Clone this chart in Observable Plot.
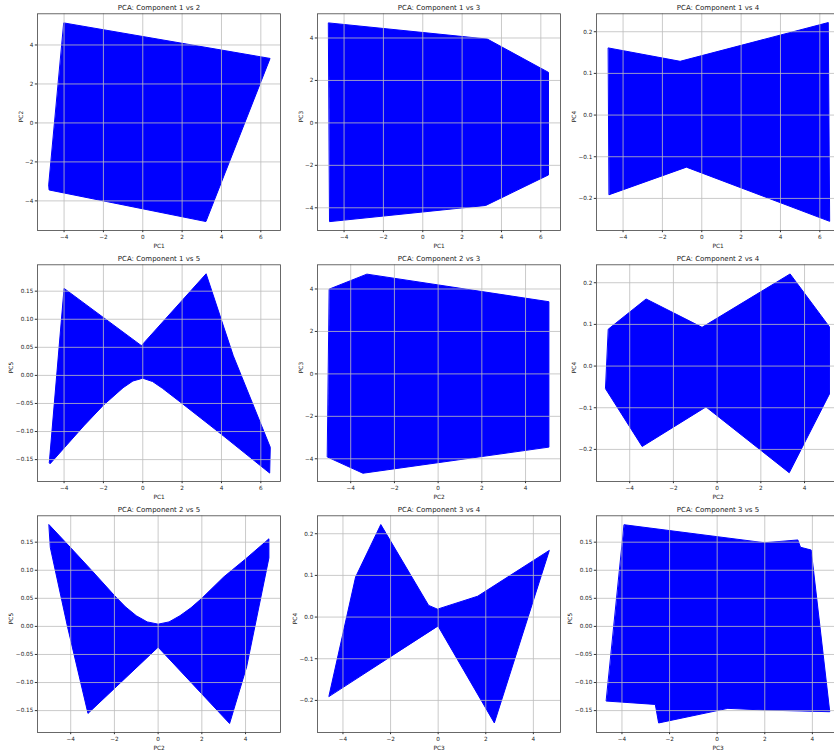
<!DOCTYPE html>
<html>
<head>
<meta charset="utf-8">
<script src="https://cdn.jsdelivr.net/npm/d3@7"></script>
<script src="https://cdn.jsdelivr.net/npm/@observablehq/plot@0.6"></script>
<style>
  html, body { margin: 0; padding: 0; background: white; overflow: hidden; }
  #grid { position: relative; width: 834px; height: 752px; overflow: hidden; font-family: "DejaVu Sans", sans-serif; }
  #grid > svg { position: absolute; }
</style>
</head>
<body>
<div id="grid"></div>
<script>
// ---- axis domains and ticks ----
const pc1Domain = [-5.35, 7.0];
const pc2Domain = [-5.52, 5.6];
const pc3Domain = [-5.07, 5.14];
const pc4Domain = [-0.277, 0.243];
const pc5Domain = [-0.189, 0.197];

const pc1Ticks = [-4, -2, 0, 2, 4, 6];
const pc2Ticks = [-4, -2, 0, 2, 4];
const pc3Ticks = [-4, -2, 0, 2, 4];
const pc4Ticks = [-0.2, -0.1, 0.0, 0.1, 0.2];
const pc5Ticks = [-0.15, -0.10, -0.05, 0.00, 0.05, 0.10, 0.15];

// ---- outline of each scatter cloud, [x, y] pairs ----
const hull12 = [[-4.0, 5.13], [6.47, 3.31], [3.21, -5.06], [-4.76, -3.44], [-4.78, -3.2]];
const hull13 = [[-4.78, 4.71], [3.28, 3.95], [6.39, 2.38], [6.39, -2.45], [3.2, -3.89], [-4.72, -4.65]];
const hull14 = [[-4.74, 0.161], [-1.1, 0.129], [6.43, 0.222], [6.5, -0.255], [-0.78, -0.125], [-4.7, -0.191]];
const hull15 = [[-4.75, -0.155], [-4.0, 0.155], [-0.07, 0.053], [3.22, 0.181], [4.6, 0.035], [6.48, -0.128], [6.45, -0.174],
  [4.0, -0.105], [2.0, -0.05], [1.0, -0.023], [0.5, -0.011], [0.0, -0.005], [-0.5, -0.01], [-1.0, -0.022], [-2.0, -0.053], [-3.0, -0.09], [-4.7, -0.157]];
const hull23 = [[-4.97, 4.0], [-3.26, 4.7], [5.07, 3.4], [5.07, -3.45], [-3.44, -4.68], [-5.06, -3.92]];
const hull24 = [[-4.97, 0.089], [-3.25, 0.161], [-0.69, 0.093], [3.34, 0.221], [5.14, 0.094], [5.14, -0.067], [3.3, -0.256],
  [-0.51, -0.098], [-3.43, -0.193], [-5.1, -0.055]];
const hull25 = [[-4.99, 0.181], [-4.0, 0.14], [-3.0, 0.098], [-2.0, 0.055], [-1.5, 0.035], [-1.0, 0.019], [-0.5, 0.008], [0.0, 0.004],
  [0.5, 0.008], [1.0, 0.019], [1.5, 0.033], [2.0, 0.05], [3.0, 0.088], [4.0, 0.12], [5.07, 0.156], [5.07, 0.122], [4.05, -0.072],
  [3.27, -0.173], [0.0, -0.037], [-3.21, -0.155], [-4.15, 0.0], [-4.93, 0.14]];
const hull34 = [[-4.59, -0.19], [-3.47, 0.096], [-2.41, 0.222], [-0.4, 0.028], [-0.03, 0.019], [1.66, 0.05], [4.67, 0.16],
  [2.36, -0.254], [0.0, -0.022]];
const hull35 = [[-3.9, 0.181], [1.99, 0.149], [3.39, 0.154], [3.5, 0.141], [3.95, 0.136], [4.73, -0.152], [2.0, -0.149],
  [0.45, -0.146], [-2.46, -0.172], [-2.6, -0.139], [-4.65, -0.133]];

const titles = ["PCA: Component 1 vs 2", "PCA: Component 1 vs 3", "PCA: Component 1 vs 4",
                "PCA: Component 1 vs 5", "PCA: Component 2 vs 3", "PCA: Component 2 vs 4",
                "PCA: Component 2 vs 5", "PCA: Component 3 vs 4", "PCA: Component 3 vs 5"];

const fInt = d3.format("d");
const f1 = d3.format(".1f");
const f2 = d3.format(".2f");

const axes = {
  PC1: {domain: pc1Domain, ticks: pc1Ticks, fmt: fInt, off: 16.5},
  PC2: {domain: pc2Domain, ticks: pc2Ticks, fmt: fInt, off: 16.5},
  PC3: {domain: pc3Domain, ticks: pc3Ticks, fmt: fInt, off: 16.5},
  PC4: {domain: pc4Domain, ticks: pc4Ticks, fmt: f1, off: 22.5},
  PC5: {domain: pc5Domain, ticks: pc5Ticks, fmt: f2, off: 26.5}
};

const panels = [
  ["PC1", "PC2", hull12], ["PC1", "PC3", hull13], ["PC1", "PC4", hull14],
  ["PC1", "PC5", hull15], ["PC2", "PC3", hull23], ["PC2", "PC4", hull24],
  ["PC2", "PC5", hull25], ["PC3", "PC4", hull34], ["PC3", "PC5", hull35]
];

const colLefts = [0, 280, 559.3];
const rowTops = [0, 251, 501.7];
const ML = 37, MT = 13.3, FW = 243, FH = 216.7, MR = 4, MB = 22;

const grid = document.getElementById("grid");
panels.forEach(([xa, ya, hull], i) => {
  const X = axes[xa], Y = axes[ya];
  const chart = Plot.plot({
    width: ML + FW + MR,
    height: MT + FH + MB,
    marginLeft: ML, marginTop: MT, marginRight: MR, marginBottom: MB,
    style: {background: "none", fontFamily: "DejaVu Sans, sans-serif", overflow: "visible"},
    x: {domain: X.domain, label: null},
    y: {domain: Y.domain, label: null},
    marks: [
      Plot.line(hull, {x: d => d[0], y: d => d[1], curve: "linear-closed", fill: "#0000ff", stroke: "#0000ff", strokeWidth: 1, strokeLinejoin: "round"}),
      Plot.gridX(X.ticks, {stroke: "#bdbdbd", strokeOpacity: 1, strokeWidth: 0.8}),
      Plot.gridY(Y.ticks, {stroke: "#bdbdbd", strokeOpacity: 1, strokeWidth: 0.8}),
      Plot.axisX(X.ticks, {tickFormat: X.fmt, tickSize: 2.2, tickPadding: 2, fontSize: 5.7, stroke: "#333", fill: "#222", label: null}),
      Plot.axisY(Y.ticks, {tickFormat: Y.fmt, tickSize: 2.2, tickPadding: 2, fontSize: 5.7, stroke: "#333", fill: "#222", label: null}),
      Plot.frame({stroke: "#444", strokeWidth: 0.8}),
      Plot.text([titles[i]], {text: d => d, frameAnchor: "top", dy: -6, lineAnchor: "middle", fontSize: 7, fill: "#222"}),
      Plot.text([xa], {text: d => d, frameAnchor: "bottom", dy: 15.7, lineAnchor: "middle", fontSize: 5.8, fill: "#222"}),
      Plot.text([ya], {text: d => d, frameAnchor: "left", dx: -Y.off, rotate: -90, lineAnchor: "middle", fontSize: 5.8, fill: "#222"})
    ]
  });
  chart.style.left = colLefts[i % 3] + "px";
  chart.style.top = rowTops[Math.floor(i / 3)] + "px";
  grid.appendChild(chart);
});
</script>
</body>
</html>
